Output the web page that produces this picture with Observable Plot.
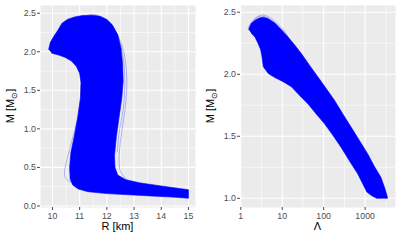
<!DOCTYPE html>
<html><head><meta charset="utf-8">
<script src="https://cdn.jsdelivr.net/npm/d3@7"></script>
<script src="https://cdn.jsdelivr.net/npm/@observablehq/plot@0.6"></script>
<style>
body{margin:0;background:#fff;font-family:"Liberation Sans",Arial,sans-serif;}
#wrap{display:flex;width:400px;height:240px;}
</style></head>
<body><div id="wrap"></div>
<script>
// ---- Left panel: M–R band (dense region outline) ----
const mrBandR = [9.86, 9.92, 10.05, 10.2, 10.35, 10.55, 10.8, 11.1, 11.45, 11.75, 12.0, 12.2, 12.4, 12.52, 12.58, 12.6, 12.55, 12.45, 12.35, 12.28, 12.3, 12.4, 12.7, 13.2, 13.8, 14.4, 15.0, 15.0, 14.4, 13.6, 12.8, 12.0, 11.3, 10.95, 10.75, 10.65, 10.63, 10.68, 10.8, 10.93, 11.03, 11.05, 11.0, 10.88, 10.7, 10.45, 10.2, 9.98];
const mrBandM = [2.03, 2.12, 2.2, 2.28, 2.37, 2.42, 2.45, 2.47, 2.475, 2.46, 2.42, 2.35, 2.22, 2.05, 1.85, 1.62, 1.4, 1.15, 0.9, 0.65, 0.5, 0.4, 0.34, 0.3, 0.27, 0.24, 0.21, 0.10, 0.115, 0.13, 0.145, 0.16, 0.185, 0.22, 0.27, 0.35, 0.5, 0.7, 0.9, 1.15, 1.4, 1.6, 1.72, 1.81, 1.88, 1.93, 1.96, 1.98];
// edge curves (thin lines outside the dense band)
const mrSoftR = [15, 14, 13, 12, 11.3, 10.8, 10.5, 10.44, 10.5, 10.68, 10.9, 11.02, 11.05, 10.98, 10.82];
const mrSoftM = [0.16, 0.175, 0.19, 0.21, 0.24, 0.29, 0.35, 0.42, 0.55, 0.8, 1.1, 1.4, 1.6, 1.75, 1.86];
const mrStiffR = [15, 14, 13.2, 12.75, 12.5, 12.45, 12.52, 12.65, 12.73, 12.72, 12.62, 12.42, 12.15, 11.85, 11.55, 11.3];
const mrStiffM = [0.2, 0.23, 0.28, 0.34, 0.45, 0.6, 0.9, 1.2, 1.5, 1.75, 2.0, 2.2, 2.36, 2.44, 2.48, 2.47];
const mrMidR = [12.38, 12.45, 12.6, 12.66, 12.64, 12.55, 12.35, 12.1, 11.8, 11.5];
const mrMidM = [0.7, 0.95, 1.25, 1.55, 1.8, 2.02, 2.22, 2.36, 2.44, 2.47];
const rTicks = [10, 11, 12, 13, 14, 15];
const rMinor = [9.5, 10.5, 11.5, 12.5, 13.5, 14.5];
const mTicksL = [0, 0.5, 1, 1.5, 2, 2.5];
const mMinorL = [0.25, 0.75, 1.25, 1.75, 2.25];

// ---- Right panel: M–Λ band ----
const mlBandL = [1.55, 1.8, 2.3, 2.9, 3.5, 4.5, 6.5, 9.5, 13.8, 20, 28.8, 45, 72, 115, 182, 290, 458, 730, 1150, 1650, 2400, 3000, 3450, 3450, 2600, 1900, 1450, 1100, 665, 420, 264, 165, 105, 66, 42, 26, 16.6, 10.5, 6.6, 4.6, 3.5, 3.2, 3.0, 2.6, 2.2, 1.8];
const mlBandM = [2.36, 2.41, 2.44, 2.455, 2.46, 2.45, 2.415, 2.36, 2.30, 2.235, 2.168, 2.075, 1.98, 1.885, 1.79, 1.68, 1.574, 1.465, 1.36, 1.26, 1.17, 1.08, 1.008, 1.0, 1.0, 1.0, 1.02, 1.05, 1.197, 1.30, 1.41, 1.51, 1.60, 1.68, 1.76, 1.83, 1.90, 1.94, 1.974, 2.006, 2.06, 2.155, 2.2, 2.25, 2.30, 2.33];
const mlArc1L = [1.5, 1.8, 2.3, 2.8, 3.4, 4.2, 5.5, 7.5, 10, 14];
const mlArc1M = [2.37, 2.42, 2.455, 2.472, 2.478, 2.47, 2.45, 2.41, 2.37, 2.30];
const mlArc2L = [1.6, 2.0, 2.6, 3.3, 4.3, 5.8, 8];
const mlArc2M = [2.38, 2.43, 2.46, 2.468, 2.458, 2.43, 2.39];
const lTicks = [1, 10, 100, 1000];
const lMinor = [3.162, 31.62, 316.2, 3162];
const mTicksR = [1, 1.5, 2, 2.5];
const mMinorR = [1.25, 1.75, 2.25];

const BLUE = "#0000FF", BG = "#EBEBEB", TXT = "#4D4D4D";

function panel(opts) {
  const svg = Plot.plot({
    width: 200, height: 240,
    marginLeft: 40, marginRight: 5, marginTop: 5, marginBottom: 33,
    style: {fontFamily: "Liberation Sans, Arial, sans-serif", background: "transparent"},
    x: opts.x, y: opts.y,
    marks: [
      Plot.frame({fill: BG, stroke: null}),
      Plot.gridX(opts.xMinor, {stroke: "white", strokeOpacity: 1, strokeWidth: 0.55}),
      Plot.gridY(opts.yMinor, {stroke: "white", strokeOpacity: 1, strokeWidth: 0.55}),
      Plot.gridX(opts.xTicks, {stroke: "white", strokeOpacity: 1, strokeWidth: 1.1}),
      Plot.gridY(opts.yTicks, {stroke: "white", strokeOpacity: 1, strokeWidth: 1.1}),
      Plot.line({length: opts.band[0].length}, {x: opts.band[0], y: opts.band[1], fill: BLUE, stroke: BLUE, strokeWidth: 0.6, curve: "linear"}),
      ...opts.curves.map(([cx, cy]) => Plot.line({length: cx.length}, {x: cx, y: cy, stroke: BLUE, strokeWidth: 0.45, strokeOpacity: 0.6, curve: "catmull-rom"})),
      Plot.axisX(opts.xTicks, {tickSize: 3, tickPadding: 2, fontSize: 8.8, color: TXT, label: null, tickFormat: opts.xFmt}),
      Plot.axisY(opts.yTicks, {tickSize: 3, tickPadding: 1.5, fontSize: 8.8, color: TXT, label: null, tickFormat: d3.format(".1f")})
    ]
  });
  const s = d3.select(svg);
  s.append("text").attr("x", 117.5).attr("y", 230).attr("text-anchor", "middle")
    .attr("font-size", 11).attr("fill", "#000").text(opts.xLabel);
  const yl = s.append("text").attr("transform", "translate(14,106) rotate(-90)")
    .attr("text-anchor", "middle").attr("font-size", 11).attr("fill", "#000");
  yl.append("tspan").text("M [M");
  yl.append("tspan").attr("font-size", 7.5).attr("dy", 2.5).text("⊙");
  yl.append("tspan").attr("dy", -2.5).text("]");
  return svg;
}

const wrap = document.getElementById("wrap");
wrap.appendChild(panel({
  x: {domain: [9.56, 15.26]}, y: {domain: [-0.02, 2.6]},
  xTicks: rTicks, xMinor: rMinor, yTicks: mTicksL, yMinor: mMinorL,
  band: [mrBandR, mrBandM],
  curves: [[mrSoftR, mrSoftM], [mrStiffR, mrStiffM], [mrMidR, mrMidM]],
  xFmt: d => String(d), xLabel: "R [km]"
}));
wrap.appendChild(panel({
  x: {type: "log", domain: [0.985, 5400]}, y: {domain: [0.926, 2.554]},
  xTicks: lTicks, xMinor: lMinor, yTicks: mTicksR, yMinor: mMinorR,
  band: [mlBandL, mlBandM],
  curves: [[mlArc1L, mlArc1M], [mlArc2L, mlArc2M]],
  xFmt: d => String(d), xLabel: "Λ"
}));
</script></body></html>
